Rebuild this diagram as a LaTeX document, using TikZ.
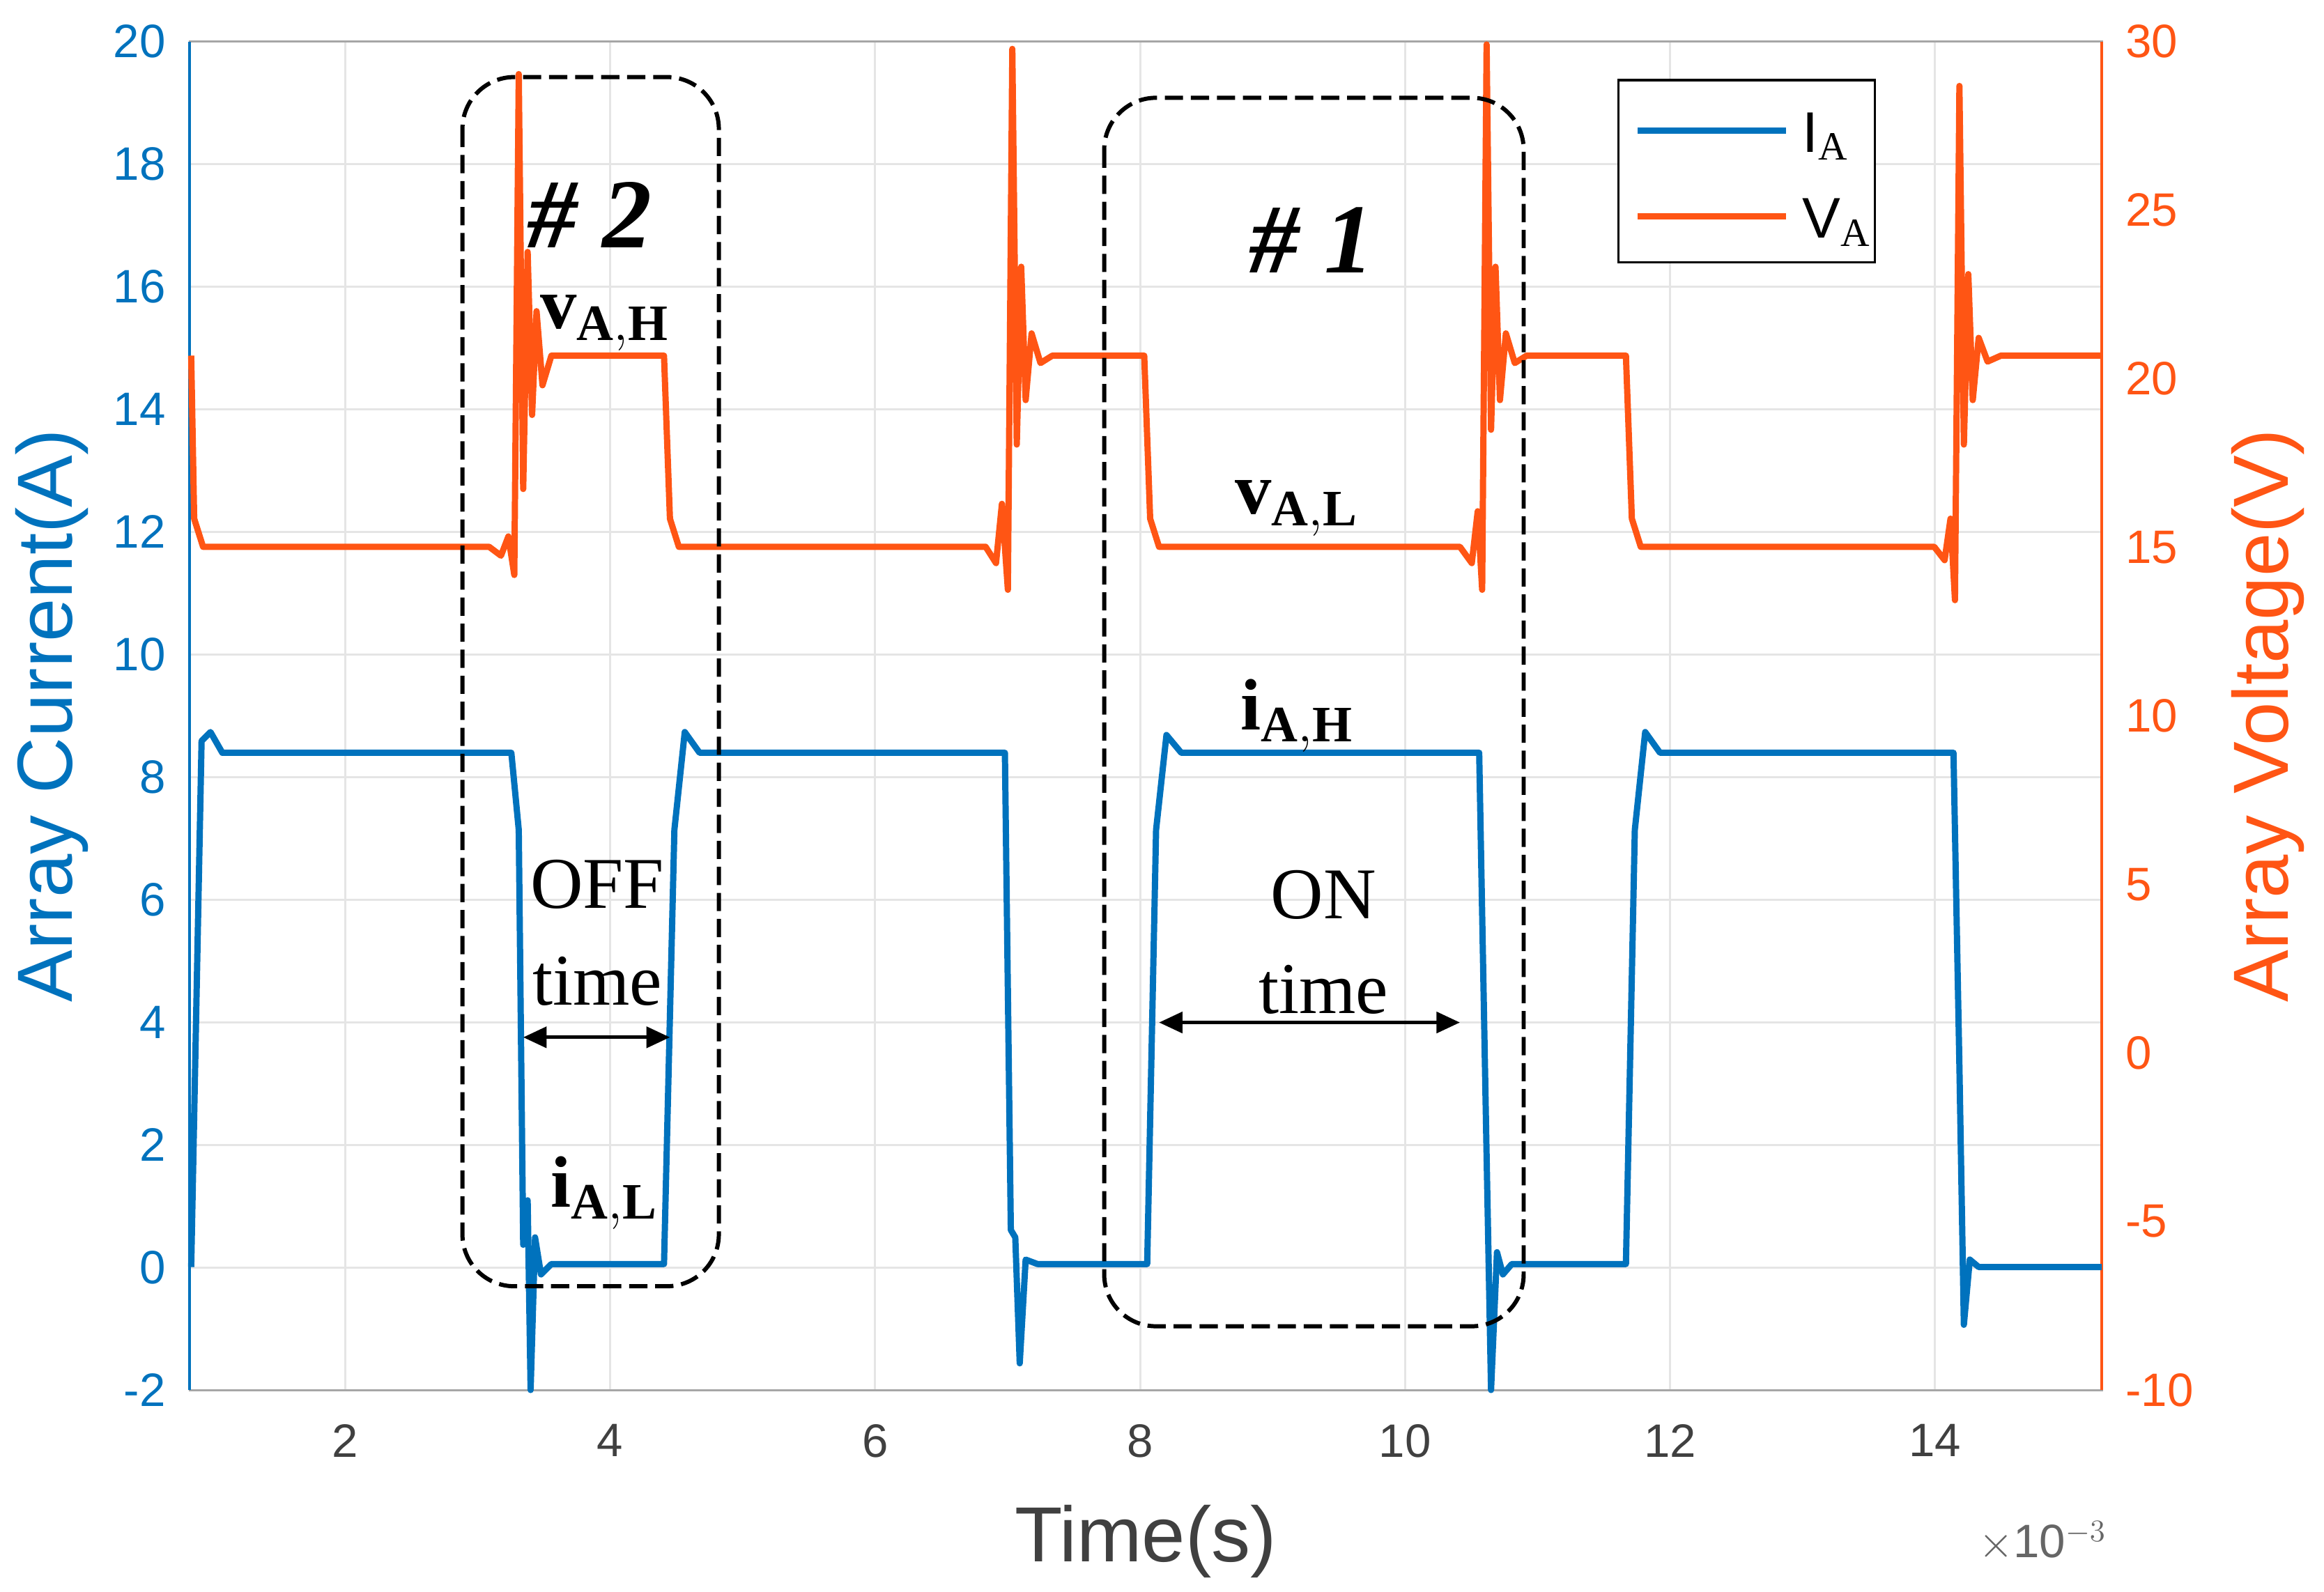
\documentclass[tikz,border=0pt]{standalone}
\usepackage{fontspec}
\setmainfont{Liberation Serif}
\newfontfamily\axfont{Liberation Sans}
\usetikzlibrary{arrows.meta}
\definecolor{CurBlue}{RGB}{0,114,189}
\definecolor{VoltOrange}{RGB}{255,85,20}
\tikzset{
  grid line/.style={gray!20, line width=0.8pt},
  wave/.style={line width=2.4pt, line join=round},
  zone/.style={dash pattern=on 7pt off 3pt, line width=1.6pt, rounded corners=0.7cm},
  span/.style={{Triangle[length=9pt,width=8pt]}-{Triangle[length=9pt,width=8pt]}, line width=1.4pt},
  tick lbl/.style={font=\axfont\fontsize{18}{20}\selectfont},
  note/.style={font=\fontsize{28}{30}\selectfont},
  sym/.style={font=\bfseries\fontsize{28}{30}\selectfont}
}
\begin{document}
\begin{tikzpicture}[x=0.02cm, y=-0.02cm]
\useasboundingbox (0,0) rectangle (1568,1074);
% grid
\foreach \k in {0,...,11} \draw[grid line] (128,{28+\k*82.73}) -- (1418,{28+\k*82.73});
\foreach \k in {2,4,...,14} \draw[grid line] ({54+\k*89.4},28) -- ({54+\k*89.4},938);
% axes box
\draw[line width=0.8pt, gray!70] (128,28) rectangle (1418,938);
\draw[CurBlue, line width=1pt] (128,28) -- (128,938);
\draw[VoltOrange, line width=1pt] (1418,28) -- (1418,938);
% tick labels
\foreach \v [count=\k from 0] in {20,18,...,-2}
  \node[tick lbl, text=CurBlue, anchor=east] (yl\k) at (118,{28+\k*82.73}) {\v};
\foreach \v [count=\k from 0] in {30,25,...,-10}
  \node[tick lbl, text=VoltOrange, anchor=west] (yr\k) at (1428,{28+\k*113.75}) {\v};
\foreach \k in {2,4,...,14}
  \node[tick lbl, text=black!75, anchor=north] (xl\k) at ({54+\k*89.4},955) {\k};
\node[font=\axfont\fontsize{30}{32}\selectfont, text=black!75] (xlab) at (773,1040) {Time(s)};
\node[font=\axfont\fontsize{18}{20}\selectfont, text=black!60] (xexp) at (1378,1040) {$\times$10$^{-3}$};
\node[font=\axfont\fontsize{30}{32}\selectfont, text=CurBlue, rotate=90] (ylab) at (35,483) {Array Current(A)};
\node[font=\axfont\fontsize{30}{32}\selectfont, text=VoltOrange, rotate=90] (yrlab) at (1530,483) {Array Voltage(V)};
% voltage
\draw[wave, VoltOrange] (129,240) -- (131,350) -- (137,369) -- (330,369) -- (338,375) -- (343,362)
  -- (347,388) -- (350,50) -- (353,330) -- (356,170) -- (359,280) -- (362,210) -- (366,260) -- (372,240)
  -- (448,240) -- (452,350) -- (458,369) -- (665,369) -- (672,380) -- (676,340) -- (680,398)
  -- (683,33) -- (686,300) -- (689,180) -- (692,270) -- (696,225) -- (702,245) -- (710,240)
  -- (772,240) -- (776,350) -- (782,369) -- (985,369) -- (993,380) -- (997,345) -- (1000,398)
  -- (1003,30) -- (1006,290) -- (1009,180) -- (1012,270) -- (1016,225) -- (1022,245) -- (1030,240)
  -- (1097,240) -- (1101,350) -- (1107,369) -- (1305,369) -- (1312,378) -- (1316,350) -- (1319,405)
  -- (1322,58) -- (1325,300) -- (1328,185) -- (1331,270) -- (1335,228) -- (1341,244) -- (1350,240)
  -- (1418,240);
% current
\draw[wave, CurBlue] (129,855) -- (136,500) -- (142,494) -- (150,508) -- (345,508)
  -- (350,560) -- (353,840) -- (356,810) -- (358,938) -- (361,835) -- (365,860) -- (372,853)
  -- (448,853) -- (455,560) -- (462,494) -- (472,508) -- (678,508) -- (682,830) -- (685,835)
  -- (688,920) -- (692,850) -- (700,853) -- (774,853) -- (780,560) -- (787,496) -- (797,508)
  -- (998,508) -- (1003,780) -- (1006,938) -- (1010,845) -- (1014,860) -- (1020,853)
  -- (1097,853) -- (1103,560) -- (1110,494) -- (1120,508) -- (1318,508) -- (1322,720)
  -- (1325,894) -- (1329,850) -- (1335,855) -- (1418,855);
% legend
\draw[line width=1pt, fill=white] (1092,54) rectangle (1265,177);
\draw[wave, CurBlue] (1105,88) -- (1205,88);
\draw[wave, VoltOrange] (1105,146) -- (1205,146);
\node[font=\axfont\fontsize{22}{24}\selectfont, anchor=west] (legI) at (1210,92) {I$_\mathrm{A}$};
\node[font=\axfont\fontsize{22}{24}\selectfont, anchor=west] (legV) at (1210,150) {V$_\mathrm{A}$};
% zones
\draw[zone] (312,52) rectangle (485,868);
\draw[zone] (745,66) rectangle (1028,895);
\node[font=\bfseries\itshape\fontsize{38}{40}\selectfont] (z2) at (398,145) {\# 2};
\node[font=\bfseries\itshape\fontsize{38}{40}\selectfont] (z1) at (885,162) {\# 1};
% labels
\node[sym] (vah) at (408,218) {v$_\mathbf{A,H}$};
\node[sym] (val) at (875,343) {v$_\mathbf{A,L}$};
\node[sym] (iah) at (875,483) {i$_\mathbf{A,H}$};
\node[sym] (ial) at (408,805) {i$_\mathbf{A,L}$};
\node[note] (off) at (403,597) {OFF};
\node[note] (offt) at (403,662) {time};
\node[note] (on) at (893,604) {ON};
\node[note] (ont) at (893,668) {time};
\coordinate (offa) at (353,700); \coordinate (offb) at (452,700);
\coordinate (ona) at (782,690); \coordinate (onb) at (985,690);
\draw[span] (offa) -- (offb);
\draw[span] (ona) -- (onb);
\end{tikzpicture}
\end{document}
